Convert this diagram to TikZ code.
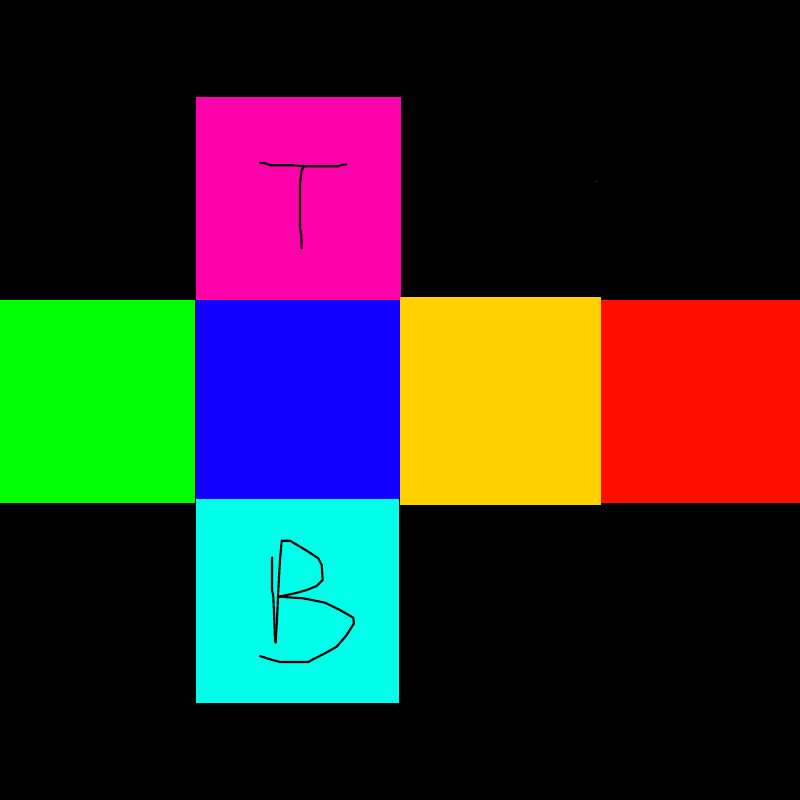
\documentclass[tikz,border=0pt]{standalone}
\definecolor{cmag}{HTML}{FF00AA}
\definecolor{cblue}{HTML}{1400FF}
\definecolor{cgreen}{HTML}{00FF00}
\definecolor{ccyan}{HTML}{00FFE8}
\definecolor{cyel}{HTML}{FFD100}
\definecolor{cred}{HTML}{FF0F00}
\tikzset{stroke/.style={draw=black,line width=0.6pt,line join=round,line cap=round}}
\begin{document}
\begin{tikzpicture}[x=0.01cm,y=-0.01cm]
\fill[black] (0,0) rectangle (800,800);
\useasboundingbox (0,0) rectangle (800,800);
% faces
\fill[cmag] (196,97) rectangle (401,300);
\fill[cgreen] (0,300) rectangle (195,503);
\fill[cred] (601,300) rectangle (800,503);
\fill[cyel] (400,297) rectangle (601,505);
\fill[cblue] (196,300) rectangle (400,499);
\fill[ccyan] (196,499) rectangle (399,703);
% tiny dot
\fill[green!60!black] (595.5,180.5) rectangle (596.8,181.8);
% T
\draw[stroke] (260,162.7) -- (265,163.3) -- (270.7,165.3) -- (293.3,165.3) -- (303.3,166.3) -- (338.3,166.3) -- (341.7,165) -- (346.7,164.3);
\draw[stroke] (304,166.3) -- (301.7,170) -- (300,183.3) -- (300,228.3) -- (301.3,235) -- (301.7,248.3);
% B
\draw[stroke] (272,557.3) -- (272,590) -- (273.3,596.7) -- (274.3,620) -- (275,641.7);
\draw[stroke] (275.7,642.7) -- (277.3,613.3) -- (278.3,590) -- (280,560) -- (281.7,540.7) -- (290,540.7) -- (300,546.7) -- (308.3,551.7) -- (318.3,558.3) -- (321.7,565) -- (322.7,580) -- (316.7,586) -- (306.7,590) -- (295,593.3) -- (278.3,596.7) -- (303.3,598.3) -- (325,602.7) -- (340,610) -- (353.3,617.7) -- (354,623.3) -- (346.7,635) -- (336.7,646.7) -- (325,653.3) -- (315,658.3) -- (308.3,662) -- (280,662) -- (270,659.3) -- (260,656);
\end{tikzpicture}
\end{document}
